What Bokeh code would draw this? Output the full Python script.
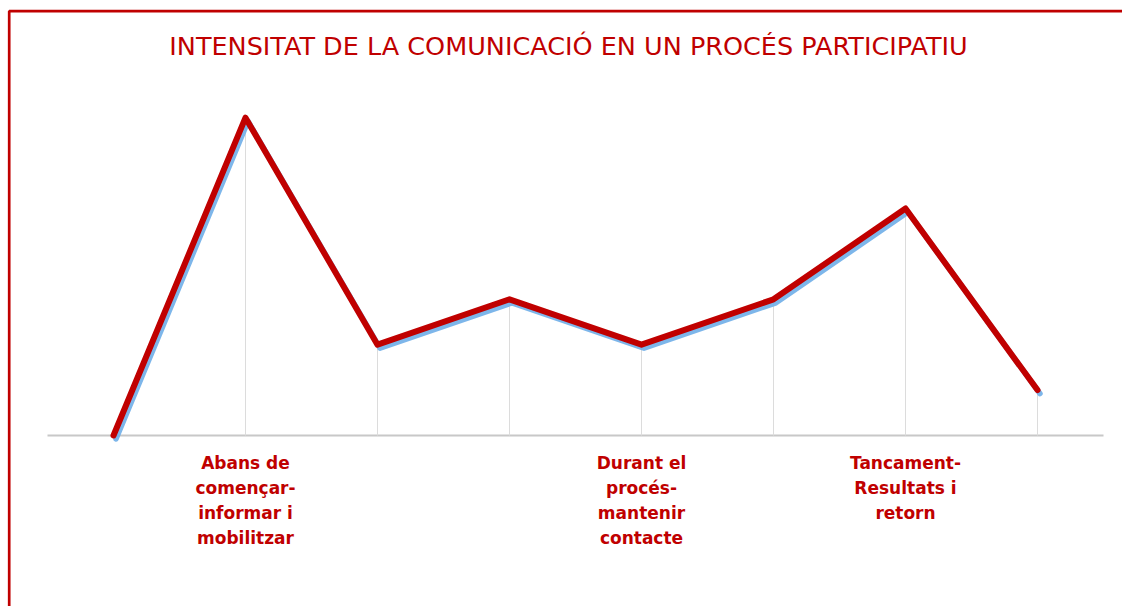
from bokeh.plotting import figure
from bokeh.models import Range1d, Label
from bokeh.embed import file_html
from bokeh.resources import INLINE
from bokeh.core.properties import value

# ---- data ----
title_text = "INTENSITAT DE LA COMUNICACIÓ EN UN PROCÉS PARTICIPATIU"
steps = [0, 1, 2, 3, 4, 5, 6, 7]
intensity = [0, 7, 2, 3, 2, 3, 5, 1]
phase_pos = [1, 4, 6]
phase_labels = [
    "Abans de\ncomençar-\ninformar i\nmobilitzar",
    "Durant el\nprocés-\nmantenir\ncontacte",
    "Tancament-\nResultats i\nretorn",
]

# ---- layout (pixel geometry) ----
W, H = 1122, 606
X0, DX = 113.0, 132.0   # pixel of first step, pixels per step
Y0, DY = 435.0, 45.4    # pixel of zero, pixels per unit

def px_x(px):
    return (px - X0) / DX

def px_y(py):
    return (Y0 - py) / DY

RED = "#C00000"

p = figure(width=W, height=H, output_backend="svg", toolbar_location=None,
           x_range=Range1d(px_x(0), px_x(W)), y_range=Range1d(px_y(H), px_y(0)),
           min_border=0, outline_line_color=None)
p.xaxis.visible = False
p.yaxis.visible = False
p.grid.visible = False
p.background_fill_color = "white"
p.border_fill_color = "white"

# shifted ranges for the shadow of the line
p.extra_x_ranges = {"sx": Range1d(px_x(0) - 2.5 / DX, px_x(W) - 2.5 / DX)}
p.extra_y_ranges = {"sy": Range1d(px_y(H) + 3.5 / DY, px_y(0) + 3.5 / DY)}

# frame border (left + top)
p.line([px_x(8.7), px_x(8.7), px_x(W + 5)], [px_y(H + 5), px_y(10.7), px_y(10.7)],
       line_color=RED, line_width=2.7)

# baseline
p.segment(x0=[steps[0] - 0.5], y0=[0], x1=[steps[-1] + 0.5], y1=[0],
          line_color="#C8C8C8", line_width=2)

# drop lines
p.segment(x0=steps, y0=[0] * len(steps), x1=steps, y1=intensity,
          line_color="#DCDCDC", line_width=1)

# shadow line
p.line(steps, intensity, line_color="#6FAEE8", line_width=5.5, line_alpha=0.9,
       line_join="round", line_cap="round", x_range_name="sx", y_range_name="sy")
# main line
p.line(steps, intensity, line_color=RED, line_width=6,
       line_join="round", line_cap="round")

# category labels
p.text(x=phase_pos, y=[0] * len(phase_pos), text=phase_labels, y_offset=17,
       text_align="center", text_baseline="top", text_color=RED,
       text_font=value("DejaVu Sans"), text_font_style="bold",
       text_font_size="17px", text_line_height=1.26)

# title
p.add_layout(Label(x=px_x(568), y=px_y(45.5), text=title_text, text_align="center",
                   text_baseline="middle", text_color=RED, text_font="DejaVu Sans",
                   text_font_size="25.5px"))

open("out.html", "w").write(file_html(p, INLINE))
